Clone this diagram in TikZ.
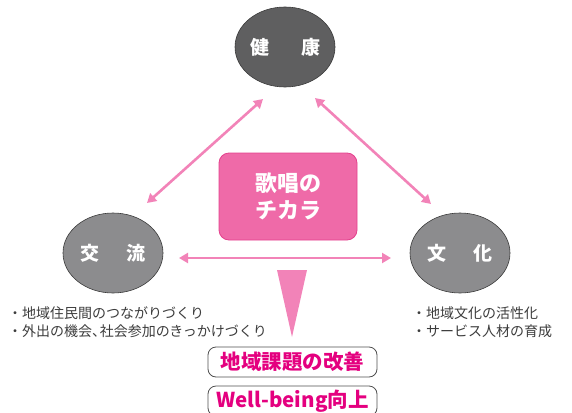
\documentclass[tikz,border=0pt]{standalone}
\usepackage{fontspec}
\setmainfont{Noto Sans CJK JP}
\usetikzlibrary{shapes.geometric,arrows.meta}
\definecolor{darkg}{HTML}{5F5F60}
\definecolor{midg}{HTML}{8C8C8E}
\definecolor{edgeg}{HTML}{3A3A3A}
\definecolor{pinkfill}{HTML}{EF6AA8}
\definecolor{pinkedge}{HTML}{E4418D}
\definecolor{arrowpink}{HTML}{F283B8}
\definecolor{magenta}{HTML}{E4007F}
\definecolor{textg}{HTML}{3C3C3C}
\tikzset{
  theme/.style={ellipse, draw=edgeg, line width=0.6pt, minimum width=100pt, minimum height=80pt, inner sep=0pt, text=white, font=\fontsize{19}{19}\selectfont\bfseries},
  link/.style={draw=arrowpink, line width=2.6pt, {Triangle[width=10pt,length=9pt]}-{Triangle[width=10pt,length=9pt]}},
  bullets/.style={text=textg, font=\fontsize{14}{18.5}\selectfont, align=left, inner sep=0pt, anchor=west},
  result/.style={draw=edgeg!90, line width=0.8pt, rounded corners=8pt, minimum width=169pt, minimum height=30pt, inner sep=0pt, text=magenta, font=\fontsize{20.5}{20.5}\selectfont\bfseries}
}
\begin{document}
\begin{tikzpicture}[x=1pt,y=-1pt]
\useasboundingbox (0,0) rectangle (572,412);
\node[theme, fill=darkg] (kenko) at (285,47) {健\hspace{32pt}康};
\node[theme, fill=midg] (koryu) at (113,253) {交\hspace{28pt}流};
\node[theme, fill=midg] (bunka) at (460,253) {文\hspace{27pt}化};
\node[draw=pinkedge, line width=0.8pt, fill=pinkfill, rounded corners=10pt, minimum width=138pt, minimum height=87pt, text=white, align=center, font=\fontsize{22}{27}\selectfont\bfseries] (power) at (288,196.5) {歌唱の\\チカラ};
\coordinate (a1) at (263,99);
\coordinate (a2) at (147,203);
\coordinate (b1) at (315,98);
\coordinate (b2) at (431,204);
\coordinate (c1) at (179,258);
\coordinate (c2) at (391,258);
\draw[link] (a1) -- (a2);
\draw[link] (b1) -- (b2);
\draw[link] (c1) -- (c2);
\coordinate (t1) at (277,270);
\coordinate (t2) at (307,270);
\coordinate (t3) at (292,337);
\fill[arrowpink] (t1) -- (t2) -- (t3) -- cycle;
\node[bullets] (leftlist) at (8,322) {・地域住民間のつながりづくり\\・外出の機会、\kern-0.45em社会参加のきっかけづくり};
\node[bullets] (rightlist) at (412,322) {・地域文化の活性化\\・サービス人材の育成};
\node[result] (goal1) at (292.5,362) {地域課題の改善};
\node[result] (goal2) at (292.5,401) {Well-being向上};
\end{tikzpicture}
\end{document}
